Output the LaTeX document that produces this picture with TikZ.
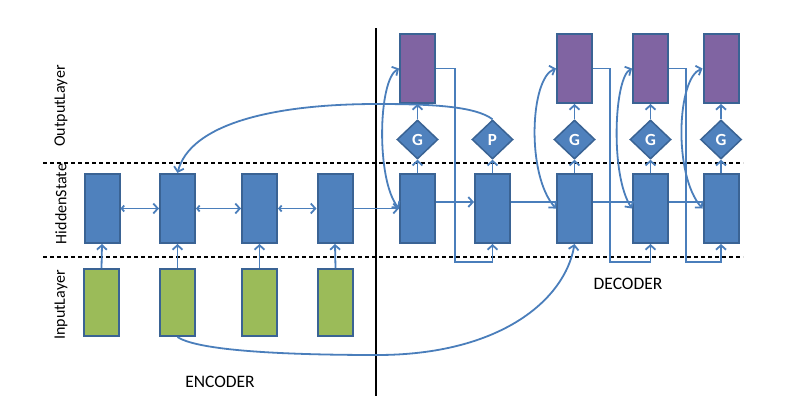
\documentclass[tikz,border=0pt]{standalone}
\usepackage{fontspec}
\setmainfont{Carlito}
\usetikzlibrary{arrows.meta,shapes.geometric}
\definecolor{hid}{HTML}{4F81BD}
\definecolor{hidb}{HTML}{3A6394}
\definecolor{outp}{HTML}{8064A2}
\definecolor{inp}{HTML}{9BBB59}
\definecolor{arrc}{HTML}{4A7EBB}
\tikzset{
  box/.style={draw=hidb,line width=2pt,minimum width=35pt,minimum height=69pt,inner sep=0pt},
  hbox/.style={box,fill=hid},
  obox/.style={box,fill=outp},
  ibox/.style={box,fill=inp,minimum height=67pt},
  gate/.style={diamond,draw=hidb,fill=hid,line width=1.5pt,minimum width=41pt,minimum height=39pt,inner sep=0pt,aspect=1,text=white,font=\bfseries\fontsize{17}{17}\selectfont},
  conn/.style={draw=arrc,line width=1.8pt,-{Straight Barb[length=4.5pt,width=10pt]}},
  plain/.style={draw=arrc,line width=1.8pt},
  bi/.style={draw=arrc,line width=1.8pt,{Straight Barb[length=2.5pt,width=6pt]}-{Straight Barb[length=4.5pt,width=10pt]}},
  bicurve/.style={draw=arrc,line width=1.8pt,{Straight Barb[length=4.5pt,width=10pt]}-{Straight Barb[length=4.5pt,width=10pt]}},
  lbl/.style={font=\fontsize{16}{16}\selectfont,inner sep=0pt},
  big/.style={font=\fontsize{17.5}{18}\selectfont,inner sep=0pt},
  sep/.style={draw=black,line width=1.2pt,dash pattern=on 4pt off 3pt}
}
\begin{document}
\begin{tikzpicture}[x=1pt,y=-1pt]
\path[use as bounding box] (0,0) rectangle (790,408);
% separators
\coordinate (dl1) at (43,163); \coordinate (dr1) at (743,163);
\coordinate (dl2) at (43,257); \coordinate (dr2) at (743,257);
\coordinate (vt) at (376,28); \coordinate (vb) at (376,396);
\draw[sep] (dl1) -- (dr1);
\draw[sep] (dl2) -- (dr2);
\draw[line width=1.3pt] (vt) -- (vb);
% encoder
\node[hbox] (e1) at (102,208.5) {};
\node[hbox] (e2) at (177.5,208.5) {};
\node[hbox] (e3) at (259.5,208.5) {};
\node[hbox] (e4) at (335,208.5) {};
\node[ibox] (i1) at (101.5,302.5) {};
\node[ibox] (i2) at (177.5,302.5) {};
\node[ibox] (i3) at (259.5,302.5) {};
\node[ibox] (i4) at (335.5,302.5) {};
% decoder
\node[hbox] (d1) at (417.5,208.5) {};
\node[hbox] (d2) at (492.5,208.5) {};
\node[hbox] (d3) at (574.5,208.5) {};
\node[hbox] (d4) at (650.5,208.5) {};
\node[hbox] (d5) at (721,208.5) {};
\node[gate] (g1) at (417.5,139.5) {G};
\node[gate] (g2) at (492.5,139.5) {P};
\node[gate] (g3) at (574.5,139.5) {G};
\node[gate] (g4) at (650.5,139.5) {G};
\node[gate] (g5) at (721,139.5) {G};
\node[obox] (o1) at (417.5,68.5) {};
\node[obox] (o3) at (574.5,68.5) {};
\node[obox] (o4) at (650.5,68.5) {};
\node[obox] (o5) at (721,68.5) {};
% labels
\node[lbl,rotate=90] (lo) at (61,106) {OutputLayer};
\node[lbl,rotate=90] (lh) at (61,204) {HiddenState};
\node[lbl,rotate=90] (li) at (61,305) {InputLayer};
\node[big] (enc) at (220,382) {ENCODER};
\node[big] (dec) at (628,284) {DECODER};
% input -> hidden
\foreach \k in {1,2,3,4} { \draw[conn] (i\k.north) -- (e\k.south); }
% encoder chain
\draw[bi] (e1.east) -- (e2.west);
\draw[bi] (e2.east) -- (e3.west);
\draw[bi] (e3.east) -- (e4.west);
\draw[conn] (e4.east) -- (d1.west);
% decoder chain
\draw[conn] ([yshift=6.5pt]d1.east) -- ([yshift=6.5pt]d2.west);
\draw[plain] ([yshift=6.5pt]d2.east) -- ([yshift=6.5pt]d3.west);
\draw[plain] ([yshift=6.5pt]d3.east) -- ([yshift=6.5pt]d4.west);
\draw[plain] ([yshift=6.5pt]d4.east) -- ([yshift=6.5pt]d5.west);
% hidden -> gate -> output
\foreach \k in {1,2,3,4,5} { \draw[conn] (d\k.north) -- (g\k.south); }
\foreach \k in {1,3,4,5} { \draw[conn] (g\k.north) -- (o\k.south); }
% output feedback
\coordinate (r1) at (455,262); \coordinate (r3) at (610,262); \coordinate (r4) at (686,262);
\draw[conn] (o1.east) -| (r1) -| (d2.south);
\draw[conn] (o3.east) -| (r3) -| (d4.south);
\draw[conn] (o4.east) -| (r4) -| (d5.south);
% side curves
\draw[bicurve] (o1.west) .. controls (378,80) and (376,180) .. (d1.west);
\draw[bicurve] (o3.west) .. controls (530,78) and (526,175) .. (d3.west);
\draw[bicurve] (o4.west) .. controls (614,78) and (610,175) .. (d4.west);
\draw[bicurve] (o5.west) .. controls (677,78) and (673,175) .. (d5.west);
% pointer curve
\coordinate (pm) at (377,104);
\draw[conn] (g2.north) .. controls (475,106) and (430,104) .. (pm) .. controls (270,104) and (190,125) .. (e2.north);
% input copy curve
\coordinate (bm) at (377,355);
\draw[conn] (i2.south) .. controls (200,352) and (300,355) .. (bm) .. controls (500,355) and (565,300) .. (d3.south);
\end{tikzpicture}
\end{document}
